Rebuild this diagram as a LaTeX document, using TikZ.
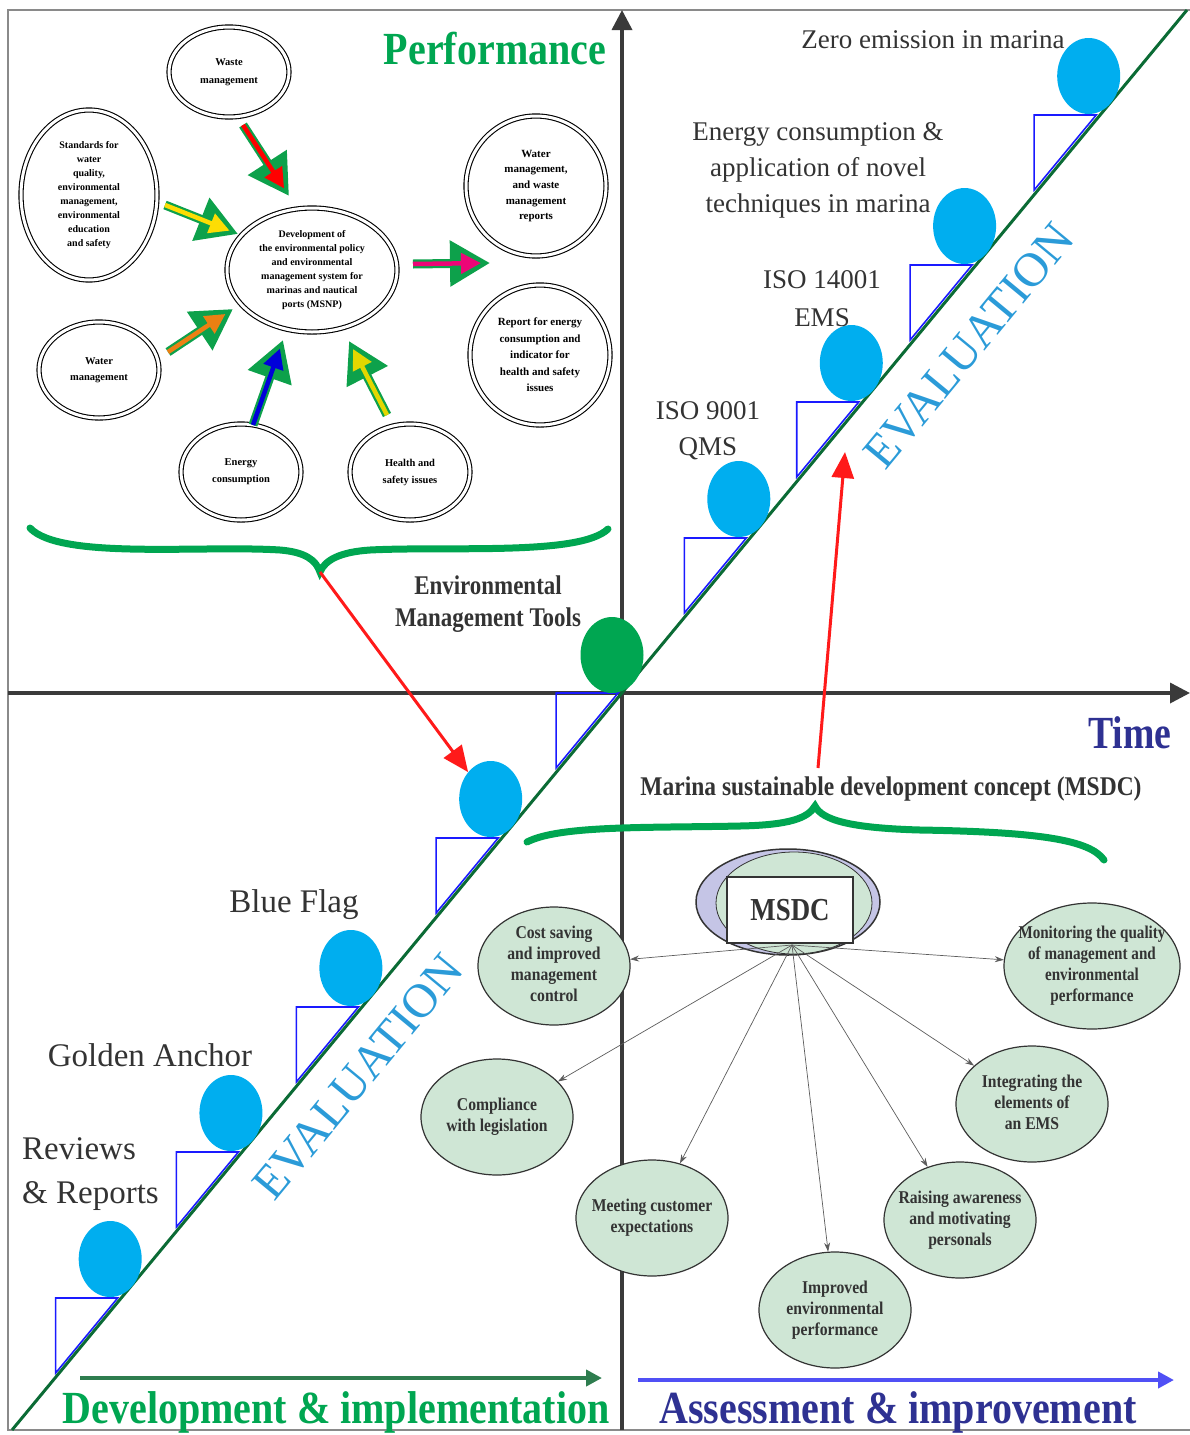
\documentclass[tikz,border=0pt]{standalone}
\usepackage{fontspec}
\setmainfont{Liberation Serif}
\usepackage{graphicx}
\usetikzlibrary{shapes.geometric,arrows.meta}
\definecolor{diaggreen}{HTML}{0B6B35}
\definecolor{stepblue}{HTML}{1A1AFF}
\definecolor{ballcyan}{HTML}{00AEEF}
\definecolor{ballgreen}{HTML}{00A651}
\definecolor{perfgreen}{HTML}{00A651}
\definecolor{navy}{HTML}{2E3192}
\definecolor{evalblue}{HTML}{2B9BD8}
\definecolor{labgray}{HTML}{333333}
\definecolor{msgreen}{HTML}{CFE6D5}
\definecolor{lavender}{HTML}{C5C5E6}
\definecolor{axisgray}{HTML}{3A3A3A}
\definecolor{framegray}{HTML}{8A8A8A}
\definecolor{arrgreen}{HTML}{0DA14B}
\definecolor{barrgreen}{HTML}{2E7D4F}
\definecolor{barrblue}{HTML}{5050F5}
\definecolor{redarr}{HTML}{FF1A1A}
\newcommand\condtext[4]{\scalebox{#1}[1]{\fontsize{#2}{#3}\selectfont\begin{tabular}{@{}c@{}}#4\end{tabular}}}
\begin{document}
\begin{tikzpicture}[x=1pt,y=-1pt,
  lbl/.style={text=labgray, font=\fontsize{27}{36}\selectfont, align=center, inner sep=0},
  biglbl/.style={text=labgray, font=\fontsize{33}{44}\selectfont, inner sep=0},
  ball/.style={ellipse, fill=ballcyan, minimum width=63pt, minimum height=76pt, inner sep=0},
  stepline/.style={draw=stepblue, line width=1.6pt, line join=miter},
  evaltext/.style={text=evalblue, font=\fontsize{48}{48}\selectfont, rotate=50.4, inner sep=0},
  cl/.style={ellipse, draw=black, double, double distance=3pt, line width=1.1pt, inner sep=0, align=center, font=\fontsize{10}{14}\selectfont\bfseries},
  fatout/.style={draw=arrgreen, line width=9pt, -{Triangle[width=44pt,length=40pt]}},
  fatin/.style={draw=#1, line width=4.5pt, shorten >=9pt, -{Triangle[width=20pt,length=20pt]}},
  redarrow/.style={draw=redarr, line width=3pt, -{Triangle[width=22pt,length=26pt]}},
  brace/.style={draw=perfgreen, line width=7pt, line cap=round},
  ms/.style={ellipse, draw=labgray, line width=1.2pt, fill=msgreen, inner sep=0},
  mstext/.style={inner sep=0, text=labgray},
  con/.style={draw=labgray!80, line width=0.7pt, -{Stealth[length=9pt,width=6pt]}}
]
\useasboundingbox (0,0) rectangle (1190,1435);
% frame
\draw[framegray, line width=2.5pt] (1190,10) -- (8,10) -- (8,1430) -- (1190,1430);
% axes
\draw[axisgray, line width=3.5pt, -{Triangle[width=20pt,length=20pt]}] (622,1430) -- (622,10);
\draw[axisgray, line width=3.5pt, -{Triangle[width=20pt,length=20pt]}] (8,693) -- (1190,693);
% steps
\foreach \t/\n in {1298/A,1152/B,1007/C,838/D,693/E,538/F,402/G,265/H,115/I}{
  \pgfmathsetmacro\cx{12+(1430-\t)/1.209-3.5}
  \pgfmathsetmacro\lx{\cx-62}
  \pgfmathsetmacro\ly{\t+62*1.209}
  \draw[stepline] (\lx,\t) -- (\cx,\t) -- (\lx,\ly) -- cycle;
}
% diagonal
\draw[diaggreen, line width=3pt] (12,1430) -- (1187,10);
% balls
\foreach \t/\n in {1298/A,1152/B,1007/C,838/D,538/F,402/G,265/H,115/I}{
  \pgfmathsetmacro\cx{12+(1430-\t)/1.209}
  \node[ball] (b\n) at (\cx-11,\t-39) {};
}
\node[ball, fill=ballgreen] (bE) at (612,655) {};
% EVALUATION
\node[evaltext] (ev1) at (969,346) {EVALUATION};
\node[evaltext] (ev2) at (358,1077) {EVALUATION};
% labels along the staircase
\node[lbl] (zero) at (933,40) {Zero emission in marina};
\node[lbl] (energy) at (818,170) {Energy consumption \&\\application of novel\\techniques in marina};
\node[lbl, font=\fontsize{27}{38}\selectfont] (iso14) at (822,299) {ISO 14001\\EMS};
\node[lbl] (iso9) at (708,431) {ISO 9001\\QMS};
\node[biglbl] (blue) at (294,905) {Blue Flag};
\node[biglbl] (golden) at (150,1055) {Golden Anchor};
\node[biglbl, anchor=west, align=left] (rev) at (22,1174) {Reviews\\\& Reports};
\node[inner sep=0, text=labgray] (emt) at (488,604) {\condtext{0.85}{27}{32}{\bfseries Environmental\\\bfseries Management Tools}};
\node[inner sep=0, text=labgray] (msdcc) at (891,789) {\condtext{0.87}{27}{32}{\bfseries Marina sustainable development concept (MSDC)}};
% big titles
\node[inner sep=0, anchor=base, text=perfgreen] (perf) at (495,64) {\scalebox{0.87}[1]{\fontsize{46}{46}\selectfont\bfseries Performance}};
\node[inner sep=0, anchor=base, text=navy] (time) at (1130,748) {\scalebox{0.82}[1]{\fontsize{46}{46}\selectfont\bfseries Time}};
\node[inner sep=0, anchor=base, text=perfgreen] (dev) at (336,1423) {\scalebox{0.87}[1]{\fontsize{46}{46}\selectfont\bfseries Development \& implementation}};
\node[inner sep=0, anchor=base, text=navy] (ass) at (898,1423) {\scalebox{0.87}[1]{\fontsize{46}{46}\selectfont\bfseries Assessment \& improvement}};
% bottom arrows
\coordinate (g1) at (80,1378); \coordinate (g2) at (602,1378);
\coordinate (u1) at (638,1380); \coordinate (u2) at (1174,1380);
\draw[barrgreen, line width=4pt, -{Triangle[width=16pt,length=16pt]}] (g1) -- (g2);
\draw[barrblue, line width=4.5pt, -{Triangle[width=16pt,length=16pt]}] (u1) -- (u2);
% braces
\draw[brace] (30,528) .. controls (60,560) and (200,545) .. (280,550) .. controls (305,552) and (316,560) .. (320,572) .. controls (325,560) and (340,552) .. (370,550) .. controls (450,546) and (580,556) .. (608,529);
\coordinate (tip1) at (320,572);
\draw[brace] (527,842) .. controls (560,825) and (650,828) .. (740,826) .. controls (790,825) and (808,818) .. (815,806) .. controls (822,820) and (850,828) .. (920,830) .. controls (1040,832) and (1090,840) .. (1104,860);
% red arrows
\draw[redarrow] (tip1) -- (bD.130);
\coordinate (r1) at (818,768); \coordinate (r2) at (845,452);
\draw[redarrow] (r1) -- (r2);
% cluster nodes
\node[cl, minimum width=120pt, minimum height=90pt, font=\fontsize{10.5}{18}\selectfont\bfseries] (waste) at (229,72) {Waste\\management};
\node[cl, minimum width=136pt, minimum height=170pt] (stand) at (89,195) {Standards for\\water\\quality,\\environmental\\management,\\environmental\\education\\and safety};
\node[cl, minimum width=170pt, minimum height=124pt] (central) at (312,270) {Development of\\the environmental policy\\and environmental\\management system for\\marinas and nautical\\ports (MSNP)};
\node[cl, minimum width=140pt, minimum height=140pt, font=\fontsize{11}{15.7}\selectfont\bfseries] (wrep) at (536,186) {Water\\management,\\and waste\\management\\reports};
\node[cl, minimum width=140pt, minimum height=140pt, font=\fontsize{11}{16.5}\selectfont\bfseries] (erep) at (540,355) {Report for energy\\consumption and\\indicator for\\health and safety\\issues};
\node[cl, minimum width=120pt, minimum height=96pt, font=\fontsize{10.5}{16}\selectfont\bfseries] (water) at (99,370) {Water\\management};
\node[cl, minimum width=120pt, minimum height=96pt, font=\fontsize{10.5}{17}\selectfont\bfseries] (enc) at (241,472) {Energy\\consumption};
\node[cl, minimum width=120pt, minimum height=96pt, font=\fontsize{10.5}{17}\selectfont\bfseries] (hs) at (410,472) {Health and\\safety issues};
% cluster arrows
\coordinate (a1s) at (243,125); \coordinate (a1e) at (289,196);
\coordinate (a2s) at (165,205); \coordinate (a2e) at (238,234);
\coordinate (a3s) at (413,264); \coordinate (a3e) at (490,263);
\coordinate (a4s) at (168,352); \coordinate (a4e) at (233,309);
\coordinate (a5s) at (253,425); \coordinate (a5e) at (283,340);
\coordinate (a6s) at (387,415); \coordinate (a6e) at (349,341);
\draw[fatout] (a1s) -- (a1e); \draw[fatin=red] (a1s) -- (a1e);
\draw[fatout] (a2s) -- (a2e); \draw[fatin={yellow!80!orange}] (a2s) -- (a2e);
\draw[fatout] (a3s) -- (a3e); \draw[fatin={magenta!80!red}] (a3s) -- (a3e);
\draw[fatout] (a4s) -- (a4e); \draw[fatin={orange!70!brown}] (a4s) -- (a4e);
\draw[fatout] (a5s) -- (a5e); \draw[fatin={blue!85!black}] (a5s) -- (a5e);
\draw[fatout] (a6s) -- (a6e); \draw[fatin={yellow!75!olive}] (a6s) -- (a6e);
% MSDC hub
\node[ellipse, draw=labgray, line width=1.5pt, fill=lavender, minimum width=184pt, minimum height=106pt, inner sep=0] (outer) at (788,902) {};
\node[ellipse, draw=labgray, line width=0.8pt, fill=msgreen, minimum width=156pt, minimum height=102pt, inner sep=0] (inner) at (794,903) {};
\node[draw=labgray, line width=1.5pt, fill=white, minimum width=126pt, minimum height=66pt, inner sep=0, text=labgray] (msdc) at (790,910) {\scalebox{0.84}[1]{\fontsize{32}{32}\selectfont\bfseries MSDC}};
\coordinate (hub) at (792,945);
\node[ms, minimum width=152pt, minimum height=118pt] (cost) at (554,966) {};
\node[ms, minimum width=176pt, minimum height=126pt] (mon) at (1092,966) {};
\node[ms, minimum width=152pt, minimum height=116pt] (comp) at (497,1117) {};
\node[ms, minimum width=152pt, minimum height=116pt] (meet) at (652,1218) {};
\node[ms, minimum width=152pt, minimum height=116pt] (impr) at (835,1310) {};
\node[ms, minimum width=152pt, minimum height=116pt] (rais) at (960,1220) {};
\node[ms, minimum width=152pt, minimum height=116pt] (integ) at (1032,1104) {};
\node[mstext] (cost-t) at (cost) {\condtext{0.87}{18}{21}{\bfseries Cost saving\\\bfseries and improved\\\bfseries management\\\bfseries control}};
\node[mstext] (mon-t) at (mon) {\condtext{0.84}{18}{21}{\bfseries Monitoring the quality\\\bfseries of management and\\\bfseries environmental\\\bfseries performance}};
\node[mstext] (comp-t) at (comp) {\condtext{0.87}{18}{21}{\bfseries Compliance\\\bfseries with legislation}};
\node[mstext] (meet-t) at (meet) {\condtext{0.87}{18}{21}{\bfseries Meeting customer\\\bfseries expectations}};
\node[mstext] (impr-t) at (impr) {\condtext{0.87}{18}{21}{\bfseries Improved\\\bfseries environmental\\\bfseries performance}};
\node[mstext] (rais-t) at (rais) {\condtext{0.87}{18}{21}{\bfseries Raising awareness\\\bfseries and motivating\\\bfseries personals}};
\node[mstext] (integ-t) at (integ) {\condtext{0.87}{18}{21}{\bfseries Integrating the\\\bfseries elements of\\\bfseries an EMS}};
\foreach \d in {cost,mon,comp,meet,impr,rais,integ}{\draw[con] (hub) -- (\d);}
\end{tikzpicture}
\end{document}
